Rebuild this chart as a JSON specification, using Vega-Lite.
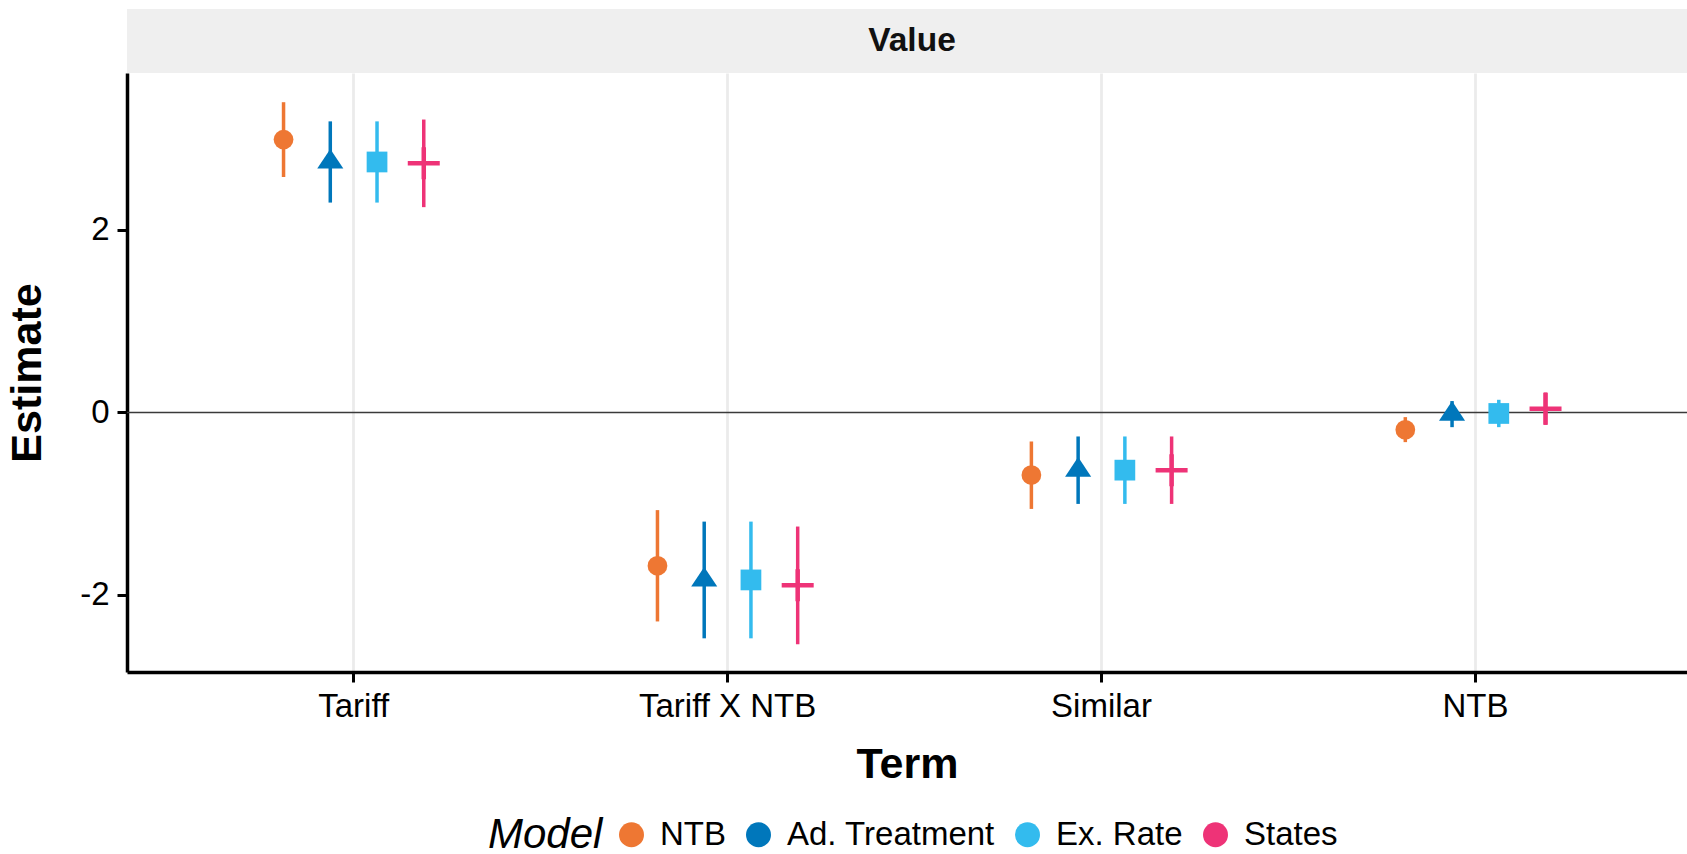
{
  "$schema": "https://vega.github.io/schema/vega-lite/v6.json",
  "padding": {"left": 6, "top": 9, "right": 0, "bottom": 0},
  "spacing": 0,
  "bounds": "flush",
  "config": {
    "font": "Liberation Sans",
    "view": {"stroke": null},
    "axis": {
      "domainColor": "#000000",
      "domainWidth": 3.5,
      "tickColor": "#000000",
      "tickWidth": 3,
      "tickSize": 10,
      "labelFontSize": 33,
      "labelColor": "#000000",
      "labelPadding": 8,
      "titleFontSize": 43,
      "titleFontWeight": "bold",
      "titleColor": "#000000",
      "gridColor": "#EBEBEB",
      "gridWidth": 2.8
    },
    "axisX": {"titlePadding": 20},
    "axisY": {"titlePadding": 30}
  },
  "vconcat": [
    {
      "width": 1560,
      "height": 64,
      "view": {"fill": "#EFEFEF", "stroke": null},
      "data": {"values": [{"panel": "Value"}]},
      "mark": {"type": "text", "fontSize": 33.5, "fontWeight": "bold", "color": "#111111", "baseline": "middle", "dx": 5},
      "encoding": {"text": {"field": "panel"}}
    },
    {
      "width": 1560,
      "height": 599,
      "data": {
        "values": [
          {"term": "Tariff", "model": "NTB", "estimate": 2.99, "low": 2.58, "high": 3.40},
          {"term": "Tariff", "model": "Ad. Treatment", "estimate": 2.745, "low": 2.30, "high": 3.19},
          {"term": "Tariff", "model": "Ex. Rate", "estimate": 2.745, "low": 2.30, "high": 3.19},
          {"term": "Tariff", "model": "States", "estimate": 2.73, "low": 2.25, "high": 3.21},
          {"term": "Tariff X NTB", "model": "NTB", "estimate": -1.68, "low": -2.29, "high": -1.07},
          {"term": "Tariff X NTB", "model": "Ad. Treatment", "estimate": -1.835, "low": -2.475, "high": -1.196},
          {"term": "Tariff X NTB", "model": "Ex. Rate", "estimate": -1.835, "low": -2.475, "high": -1.196},
          {"term": "Tariff X NTB", "model": "States", "estimate": -1.894, "low": -2.54, "high": -1.25},
          {"term": "Similar", "model": "NTB", "estimate": -0.686, "low": -1.057, "high": -0.318},
          {"term": "Similar", "model": "Ad. Treatment", "estimate": -0.632, "low": -1.002, "high": -0.263},
          {"term": "Similar", "model": "Ex. Rate", "estimate": -0.632, "low": -1.002, "high": -0.263},
          {"term": "Similar", "model": "States", "estimate": -0.632, "low": -1.002, "high": -0.263},
          {"term": "NTB", "model": "NTB", "estimate": -0.19, "low": -0.325, "high": -0.051},
          {"term": "NTB", "model": "Ad. Treatment", "estimate": -0.018, "low": -0.161, "high": 0.125},
          {"term": "NTB", "model": "Ex. Rate", "estimate": -0.011, "low": -0.161, "high": 0.139},
          {"term": "NTB", "model": "States", "estimate": 0.042, "low": -0.135, "high": 0.219}
        ]
      },
      "layer": [
        {
          "data": {"values": [{"line": "zero"}]},
          "mark": {"type": "rule", "color": "#3a3a3a", "strokeWidth": 1.5},
          "encoding": {
            "y": {"datum": 0, "type": "quantitative", "scale": {"domain": [-2.844, 3.72], "nice": false, "zero": false}, "axis": {"values": [-2, 0, 2], "labelExpr": "'' + datum.value", "title": "Estimate"}}
          }
        },
        {
          "mark": {"type": "rule", "strokeWidth": 3.5},
          "encoding": {
            "x": {"field": "term", "type": "nominal", "sort": ["Tariff", "Tariff X NTB", "Similar", "NTB"], "scale": {"paddingInner": 0.5, "paddingOuter": 0.336, "align": 0.53}, "axis": {"title": "Term", "labelAngle": 0, "bandPosition": 0.5, "grid": true}},
            "xOffset": {"field": "model", "type": "nominal", "scale": {"domain": ["NTB", "Ad. Treatment", "Ex. Rate", "States"], "paddingInner": 0, "paddingOuter": 0}},
            "y": {"field": "low", "type": "quantitative", "title": "Estimate"},
            "y2": {"field": "high"},
            "color": {"field": "model", "type": "nominal", "title": "Model", "scale": {"domain": ["NTB", "Ad. Treatment", "Ex. Rate", "States"], "range": ["#EE7733", "#0077BB", "#33BBEE", "#EE3377"]}}
          }
        },
        {
          "transform": [{"filter": "datum.model != 'States'"}],
          "mark": {"type": "point", "filled": true, "opacity": 1, "size": 390},
          "encoding": {
            "x": {"field": "term", "type": "nominal", "sort": ["Tariff", "Tariff X NTB", "Similar", "NTB"]},
            "xOffset": {"field": "model", "type": "nominal"},
            "y": {"field": "estimate", "type": "quantitative", "title": "Estimate"},
            "color": {
              "field": "model", "type": "nominal", "title": "Model",
              "legend": {
                "orient": "none", "legendX": 361, "legendY": 809, "direction": "horizontal",
                "titleOrient": "left", "titleFontSize": 42, "titleFontStyle": "italic", "titleFontWeight": "normal",
                "titleColor": "#000000", "titlePadding": 12, "titleBaseline": "middle",
                "labelFontSize": 33, "labelColor": "#000000", "labelOffset": 12, "labelLimit": 0,
                "symbolType": "circle", "symbolSize": 625, "symbolStrokeWidth": 0, "symbolOpacity": 1,
                "columnPadding": 16,
                "encode": {"symbols": {"update": {"fill": {"scale": "color", "field": "value"}, "stroke": {"value": "transparent"}}}}
              }
            },
            "shape": {"field": "model", "type": "nominal", "scale": {"domain": ["NTB", "Ad. Treatment", "Ex. Rate"], "range": ["circle", "M0,-1.32L1.32,0.66L-1.32,0.66Z", "M-1.05,-1.05H1.05V1.05H-1.05Z"]}, "legend": null}
          }
        },
        {
          "transform": [{"filter": "datum.model == 'States'"}],
          "mark": {"type": "point", "shape": "M-1,0H1M0,-1V1", "filled": false, "strokeWidth": 4.5, "size": 1024, "opacity": 1},
          "encoding": {
            "x": {"field": "term", "type": "nominal", "sort": ["Tariff", "Tariff X NTB", "Similar", "NTB"]},
            "xOffset": {"field": "model", "type": "nominal"},
            "y": {"field": "estimate", "type": "quantitative", "title": "Estimate"},
            "color": {"field": "model", "type": "nominal", "title": "Model"}
          }
        }
      ]
    }
  ]
}
